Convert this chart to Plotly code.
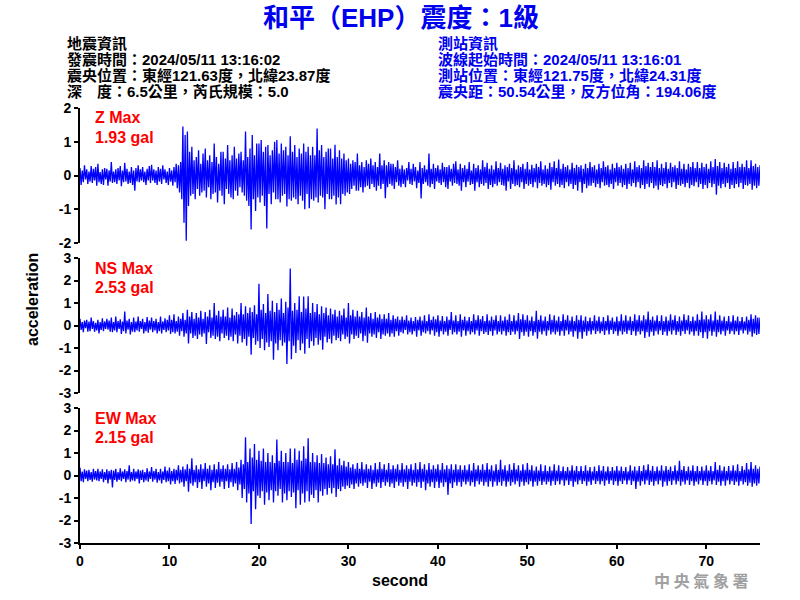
import plotly.graph_objects as go
from plotly.subplots import make_subplots

# ---------------- data: peak readings alternating up/down, one every 0.125 s ----------------
SAMPLE_STEP = 0.125  # seconds between successive peak readings

z_peaks = [
    0.22, -0.28, 0.15, -0.20, 0.30, -0.12, 0.18, -0.25,
    0.12, -0.18, 0.28, -0.22, 0.20, -0.15, 0.25, -0.30,
    0.35, -0.20, 0.10, -0.25, 0.18, -0.28, 0.22, -0.12,
    0.20, -0.30, 0.15, -0.18, 0.40, -0.22, 0.12, -0.20,
    0.18, -0.25, 0.22, -0.15, 0.28, -0.32, 0.15, -0.20,
    0.38, -0.18, 0.20, -0.25, 0.12, -0.22, 0.25, -0.28,
    0.15, -0.45, 0.22, -0.18, 0.30, -0.20, 0.18, -0.15,
    0.25, -0.20, 0.12, -0.28, 0.20, -0.15, 0.28, -0.22,
    0.32, -0.15, 0.18, -0.22, 0.15, -0.28, 0.25, -0.18,
    0.20, -0.25, 0.30, -0.12, 0.18, -0.22, 0.12, -0.28,
    0.22, -0.18, 0.15, -0.30, 0.25, -0.20, 0.35, -0.38,
    0.30, -0.50, 0.40, -0.70, 1.45, -1.40, 1.20, -1.93,
    1.30, -0.90, 0.70, -0.60, 0.85, -0.55, 0.45, -0.70,
    0.55, -0.40, 0.75, -0.60, 0.35, -0.50, 0.65, -0.45,
    0.80, -0.65, 0.45, -0.35, 0.60, -0.70, 0.40, -0.55,
    0.95, -0.50, 0.55, -0.80, 0.35, -0.45, 0.70, -0.60,
    0.70, -0.85, 0.50, -0.40, 0.90, -0.55, 0.45, -0.65,
    0.60, -0.70, 0.85, -0.45, 0.50, -0.60, 0.65, -0.35,
    0.70, -0.50, 0.45, -0.60, 1.30, -0.75, 0.55, -0.90,
    0.80, -1.60, 1.20, -0.70, 0.60, -1.05, 0.95, -0.65,
    0.95, -0.80, 1.05, -0.60, 0.70, -0.90, 0.85, -1.57,
    0.90, -0.55, 0.60, -0.85, 0.75, -0.50, 1.00, -0.70,
    1.05, -0.70, 0.65, -0.80, 0.95, -0.60, 0.75, -0.55,
    0.85, -0.92, 0.60, -0.70, 1.16, -0.75, 0.70, -0.65,
    0.90, -0.70, 0.55, -0.85, 0.80, -0.60, 0.65, -0.75,
    0.95, -1.00, 0.70, -0.55, 0.85, -0.97, 0.60, -0.70,
    0.85, -0.75, 0.60, -0.65, 1.39, -0.80, 0.75, -0.60,
    0.90, -0.65, 0.55, -1.00, 0.70, -0.55, 0.80, -0.70,
    0.80, -0.70, 0.50, -0.60, 0.91, -0.86, 0.55, -0.65,
    0.75, -0.85, 0.50, -0.55, 0.65, -0.60, 0.45, -0.50,
    0.50, -0.55, 0.35, -0.40, 0.45, -0.30, 0.40, -0.45,
    0.65, -0.45, 0.30, -0.35, 0.40, -0.50, 0.25, -0.35,
    0.45, -0.30, 0.35, -0.40, 0.50, -0.25, 0.30, -0.35,
    0.40, -0.45, 0.25, -0.30, 0.65, -0.40, 0.30, -0.25,
    0.45, -0.67, 0.30, -0.35, 0.40, -0.25, 0.35, -0.30,
    0.35, -0.40, 0.25, -0.20, 0.45, -0.30, 0.20, -0.35,
    0.30, -0.25, 0.18, -0.35, 0.22, -0.15, 0.40, -0.25,
    0.20, -0.28, 0.35, -0.18, 0.25, -0.38, 0.15, -0.22,
    0.40, -0.68, 0.22, -0.25, 0.30, -0.20, 0.18, -0.30,
    0.65, -0.35, 0.20, -0.25, 0.35, -0.40, 0.22, -0.18,
    0.30, -0.22, 0.18, -0.28, 0.38, -0.20, 0.25, -0.35,
    0.25, -0.40, 0.30, -0.18, 0.20, -0.30, 0.35, -0.22,
    0.42, -0.25, 0.18, -0.30, 0.35, -0.45, 0.22, -0.20,
    0.30, -0.35, 0.20, -0.18, 0.40, -0.28, 0.15, -0.25,
    0.35, -0.45, 0.22, -0.20, 0.30, -0.35, 0.18, -0.25,
    0.45, -0.30, 0.25, -0.22, 0.38, -0.40, 0.20, -0.28,
    0.30, -0.35, 0.18, -0.25, 0.42, -0.30, 0.22, -0.20,
    0.38, -0.28, 0.20, -0.30, 0.30, -0.45, 0.25, -0.18,
    0.35, -0.40, 0.22, -0.25, 0.45, -0.32, 0.18, -0.28,
    0.30, -0.35, 0.25, -0.20, 0.35, -0.40, 0.20, -0.25,
    0.40, -0.30, 0.18, -0.25, 0.32, -0.35, 0.22, -0.20,
    0.35, -0.38, 0.25, -0.22, 0.42, -0.30, 0.18, -0.25,
    0.30, -0.35, 0.20, -0.28, 0.38, -0.42, 0.25, -0.20,
    0.42, -0.30, 0.22, -0.25, 0.47, -0.35, 0.20, -0.28,
    0.35, -0.38, 0.25, -0.20, 0.30, -0.32, 0.18, -0.25,
    0.38, -0.40, 0.22, -0.28, 0.32, -0.45, 0.25, -0.20,
    0.30, -0.51, 0.20, -0.25, 0.35, -0.38, 0.22, -0.30,
    0.40, -0.30, 0.25, -0.22, 0.30, -0.35, 0.18, -0.25,
    0.35, -0.38, 0.22, -0.20, 0.42, -0.30, 0.25, -0.28,
    0.30, -0.35, 0.18, -0.25, 0.35, -0.40, 0.22, -0.20,
    0.38, -0.30, 0.25, -0.22, 0.30, -0.35, 0.20, -0.28,
    0.35, -0.40, 0.22, -0.25, 0.38, -0.32, 0.18, -0.22,
    0.42, -0.35, 0.25, -0.20, 0.30, -0.38, 0.22, -0.28,
    0.45, -0.40, 0.28, -0.25, 0.38, -0.35, 0.25, -0.22,
    0.40, -0.38, 0.25, -0.30, 0.45, -0.42, 0.22, -0.28,
    0.35, -0.32, 0.22, -0.25, 0.40, -0.38, 0.20, -0.22,
    0.38, -0.35, 0.25, -0.20, 0.30, -0.40, 0.22, -0.28,
    0.42, -0.30, 0.20, -0.25, 0.35, -0.35, 0.18, -0.22,
    0.35, -0.38, 0.25, -0.28, 0.40, -0.32, 0.22, -0.20,
    0.40, -0.35, 0.22, -0.25, 0.38, -0.40, 0.25, -0.28,
    0.35, -0.38, 0.20, -0.22, 0.42, -0.35, 0.25, -0.25,
    0.49, -0.57, 0.28, -0.30, 0.40, -0.38, 0.22, -0.25,
    0.38, -0.35, 0.25, -0.22, 0.35, -0.40, 0.20, -0.28,
    0.40, -0.38, 0.22, -0.25, 0.42, -0.35, 0.25, -0.22,
    0.35, -0.40, 0.25, -0.28, 0.45, -0.30, 0.22, -0.25,
    0.45, -0.42, 0.28, -0.30, 0.35, -0.38, 0.25, -0.30,
    0.30,
]

ns_peaks = [
    0.30, -0.20, 0.15, -0.30, 0.22, -0.12, 0.25, -0.28,
    0.18, -0.25, 0.35, -0.15, 0.20, -0.28, 0.12, -0.22,
    0.25, -0.35, 0.15, -0.20, 0.32, -0.25, 0.18, -0.15,
    0.30, -0.18, 0.22, -0.28, 0.35, -0.30, 0.15, -0.22,
    0.40, -0.30, 0.20, -0.15, 0.28, -0.38, 0.18, -0.25,
    0.62, -0.35, 0.22, -0.18, 0.30, -0.40, 0.15, -0.28,
    0.35, -0.30, 0.18, -0.22, 0.40, -0.28, 0.20, -0.15,
    0.30, -0.35, 0.15, -0.25, 0.38, -0.32, 0.22, -0.18,
    0.35, -0.30, 0.20, -0.22, 0.30, -0.35, 0.15, -0.25,
    0.40, -0.35, 0.18, -0.20, 0.32, -0.30, 0.25, -0.22,
    0.45, -0.38, 0.25, -0.30, 0.50, -0.35, 0.20, -0.28,
    0.40, -0.45, 0.30, -0.25, 0.55, -0.50, 0.25, -0.35,
    0.70, -0.80, 0.40, -0.35, 0.60, -0.55, 0.30, -0.45,
    0.55, -0.60, 0.35, -0.40, 0.65, -0.50, 0.30, -0.35,
    0.60, -0.82, 0.40, -0.30, 0.70, -0.55, 0.35, -0.45,
    1.00, -0.60, 0.45, -0.50, 0.65, -0.70, 0.40, -0.35,
    0.70, -0.55, 0.40, -0.45, 0.80, -0.65, 0.35, -0.50,
    0.75, -0.70, 0.45, -0.40, 0.60, -0.80, 0.50, -0.45,
    1.00, -0.75, 0.50, -0.60, 0.85, -0.90, 0.55, -0.50,
    0.80, -1.30, 0.60, -0.55, 0.90, -0.85, 0.50, -0.70,
    1.85, -1.00, 0.70, -0.60, 0.95, -1.10, 0.55, -0.75,
    1.40, -0.95, 0.65, -0.70, 1.10, -1.52, 0.60, -0.80,
    1.00, -1.10, 0.70, -0.65, 1.20, -0.90, 0.55, -0.75,
    1.05, -1.71, 0.80, -0.70, 2.53, -1.50, 0.65, -0.90,
    1.00, -1.22, 0.70, -0.65, 1.30, -1.10, 0.60, -0.80,
    1.29, -1.26, 0.75, -0.60, 1.30, -1.00, 0.55, -0.70,
    1.00, -0.90, 0.60, -0.55, 0.95, -0.85, 0.50, -0.65,
    0.85, -1.08, 0.55, -0.50, 0.80, -0.75, 0.45, -0.60,
    0.75, -0.80, 0.50, -0.45, 0.70, -0.65, 0.40, -0.55,
    0.65, -0.70, 0.45, -0.40, 0.75, -0.60, 0.35, -0.50,
    1.00, -0.80, 0.45, -0.40, 0.70, -0.60, 0.40, -0.45,
    0.65, -0.55, 0.40, -0.35, 0.60, -0.70, 0.35, -0.45,
    0.80, -0.77, 0.40, -0.35, 0.55, -0.50, 0.30, -0.40,
    0.60, -0.55, 0.35, -0.30, 0.50, -0.60, 0.30, -0.40,
    0.50, -0.45, 0.30, -0.35, 0.55, -0.50, 0.25, -0.35,
    0.45, -0.50, 0.30, -0.25, 0.40, -0.45, 0.25, -0.30,
    0.40, -0.35, 0.25, -0.20, 0.45, -0.40, 0.22, -0.30,
    0.35, -0.40, 0.20, -0.25, 0.38, -0.50, 0.25, -0.22,
    0.40, -0.45, 0.22, -0.30, 0.45, -0.35, 0.20, -0.25,
    0.50, -0.40, 0.25, -0.22, 0.40, -0.45, 0.28, -0.30,
    0.45, -0.50, 0.22, -0.25, 0.42, -0.40, 0.20, -0.28,
    0.40, -0.45, 0.25, -0.20, 0.60, -0.40, 0.22, -0.30,
    0.45, -0.40, 0.20, -0.28, 0.50, -0.50, 0.25, -0.22,
    0.40, -0.45, 0.22, -0.25, 0.38, -0.40, 0.20, -0.30,
    0.50, -0.40, 0.25, -0.22, 0.45, -0.45, 0.28, -0.25,
    0.42, -0.38, 0.20, -0.30, 0.50, -0.42, 0.22, -0.25,
    0.40, -0.45, 0.25, -0.22, 0.45, -0.40, 0.20, -0.28,
    0.45, -0.40, 0.22, -0.25, 0.40, -0.45, 0.25, -0.30,
    0.50, -0.42, 0.20, -0.28, 0.45, -0.40, 0.22, -0.25,
    0.55, -0.60, 0.28, -0.30, 0.50, -0.45, 0.25, -0.28,
    0.45, -0.50, 0.22, -0.25, 0.40, -0.45, 0.20, -0.30,
    0.65, -0.59, 0.25, -0.28, 0.45, -0.40, 0.22, -0.25,
    0.40, -0.45, 0.20, -0.22, 0.50, -0.40, 0.25, -0.30,
    0.45, -0.40, 0.22, -0.28, 0.40, -0.45, 0.20, -0.25,
    0.50, -0.45, 0.25, -0.22, 0.45, -0.40, 0.22, -0.28,
    0.40, -0.50, 0.20, -0.25, 0.45, -0.59, 0.25, -0.30,
    0.45, -0.59, 0.22, -0.28, 0.40, -0.45, 0.20, -0.25,
    0.35, -0.40, 0.20, -0.22, 0.45, -0.38, 0.22, -0.25,
    0.40, -0.35, 0.18, -0.25, 0.38, -0.42, 0.20, -0.22,
    0.45, -0.40, 0.22, -0.20, 0.35, -0.38, 0.18, -0.25,
    0.40, -0.45, 0.20, -0.25, 0.50, -0.40, 0.22, -0.28,
    0.45, -0.38, 0.22, -0.22, 0.40, -0.42, 0.20, -0.25,
    0.50, -0.45, 0.25, -0.28, 0.45, -0.40, 0.22, -0.25,
    0.45, -0.55, 0.28, -0.30, 0.62, -0.50, 0.25, -0.28,
    0.40, -0.45, 0.22, -0.25, 0.45, -0.40, 0.20, -0.22,
    0.45, -0.42, 0.20, -0.28, 0.40, -0.45, 0.22, -0.25,
    0.50, -0.40, 0.25, -0.22, 0.45, -0.42, 0.20, -0.28,
    0.40, -0.45, 0.22, -0.25, 0.50, -0.38, 0.25, -0.22,
    0.45, -0.40, 0.20, -0.28, 0.40, -0.45, 0.22, -0.25,
    0.50, -0.45, 0.25, -0.30, 0.62, -0.55, 0.28, -0.30,
    0.45, -0.59, 0.28, -0.25, 0.50, -0.45, 0.22, -0.28,
    0.62, -0.50, 0.25, -0.30, 0.45, -0.40, 0.22, -0.25,
    0.40, -0.45, 0.20, -0.22, 0.42, -0.38, 0.18, -0.25,
    0.45, -0.40, 0.22, -0.25, 0.40, -0.42, 0.20, -0.22,
    0.38, -0.35, 0.18, -0.22, 0.40, -0.40, 0.25, -0.28,
    0.50, -0.50, 0.30, -0.35, 0.45, -0.42, 0.35, -0.38,
    0.35,
]

ew_peaks = [
    0.35, -0.25, 0.18, -0.30, 0.28, -0.15, 0.22, -0.25,
    0.25, -0.20, 0.15, -0.28, 0.30, -0.18, 0.20, -0.22,
    0.30, -0.25, 0.18, -0.15, 0.28, -0.30, 0.15, -0.20,
    0.28, -0.35, 0.20, -0.18, 0.25, -0.53, 0.22, -0.20,
    0.30, -0.28, 0.15, -0.20, 0.32, -0.25, 0.18, -0.15,
    0.28, -0.30, 0.20, -0.18, 0.45, -0.28, 0.15, -0.22,
    0.30, -0.25, 0.18, -0.15, 0.28, -0.35, 0.22, -0.20,
    0.25, -0.30, 0.15, -0.22, 0.32, -0.28, 0.18, -0.15,
    0.38, -0.28, 0.20, -0.18, 0.30, -0.32, 0.15, -0.22,
    0.30, -0.35, 0.18, -0.20, 0.40, -0.30, 0.22, -0.25,
    0.35, -0.40, 0.20, -0.25, 0.30, -0.38, 0.25, -0.22,
    0.45, -0.35, 0.25, -0.30, 0.40, -0.50, 0.28, -0.25,
    0.50, -0.72, 0.30, -0.35, 0.77, -0.45, 0.25, -0.30,
    0.45, -0.55, 0.28, -0.30, 0.50, -0.60, 0.30, -0.25,
    0.55, -0.50, 0.30, -0.35, 0.45, -0.65, 0.25, -0.30,
    0.50, -0.55, 0.28, -0.32, 0.60, -0.50, 0.30, -0.28,
    0.45, -0.60, 0.30, -0.25, 0.50, -0.55, 0.28, -0.30,
    0.55, -0.50, 0.30, -0.35, 0.60, -0.65, 0.35, -0.40,
    0.70, -1.00, 0.50, -0.60, 1.70, -1.20, 0.60, -0.80,
    1.20, -2.15, 0.80, -0.70, 1.40, -1.50, 0.70, -0.90,
    1.10, -1.00, 0.65, -0.70, 1.20, -1.30, 0.60, -0.75,
    1.00, -1.10, 0.60, -0.65, 0.90, -1.20, 0.55, -0.70,
    1.60, -0.90, 0.65, -0.60, 1.10, -1.20, 0.60, -0.80,
    1.00, -1.10, 0.60, -0.70, 1.20, -0.95, 0.55, -0.75,
    1.20, -1.45, 0.70, -0.65, 1.10, -1.30, 0.65, -0.80,
    1.30, -1.20, 0.75, -0.70, 1.65, -1.15, 0.60, -0.85,
    1.00, -1.00, 0.60, -0.65, 0.90, -1.20, 0.55, -0.70,
    0.95, -0.90, 0.55, -0.60, 0.80, -0.85, 0.50, -0.55,
    0.85, -0.80, 0.50, -0.55, 1.17, -0.95, 0.45, -0.60,
    0.75, -0.70, 0.45, -0.50, 0.65, -0.60, 0.40, -0.45,
    0.60, -0.55, 0.35, -0.40, 0.50, -0.60, 0.30, -0.35,
    0.55, -0.50, 0.30, -0.35, 0.60, -0.45, 0.28, -0.32,
    0.50, -0.55, 0.30, -0.28, 0.45, -0.60, 0.25, -0.35,
    0.55, -0.50, 0.28, -0.32, 0.60, -0.55, 0.30, -0.30,
    0.50, -0.45, 0.25, -0.30, 0.55, -0.50, 0.28, -0.35,
    0.45, -0.55, 0.30, -0.28, 0.50, -0.45, 0.25, -0.32,
    0.55, -0.50, 0.28, -0.30, 0.45, -0.60, 0.30, -0.28,
    0.50, -0.45, 0.25, -0.32, 0.55, -0.50, 0.28, -0.30,
    0.60, -0.55, 0.30, -0.28, 0.50, -0.65, 0.25, -0.35,
    0.55, -0.50, 0.28, -0.30, 0.45, -0.55, 0.30, -0.28,
    0.50, -0.55, 0.25, -0.32, 0.55, -0.50, 0.28, -0.30,
    0.45, -0.86, 0.30, -0.35, 0.50, -0.55, 0.25, -0.30,
    0.50, -0.45, 0.28, -0.30, 0.45, -0.50, 0.25, -0.28,
    0.45, -0.40, 0.25, -0.28, 0.50, -0.45, 0.22, -0.30,
    0.55, -0.50, 0.28, -0.25, 0.45, -0.40, 0.25, -0.28,
    0.50, -0.45, 0.25, -0.30, 0.55, -0.50, 0.28, -0.25,
    0.45, -0.50, 0.22, -0.28, 0.50, -0.45, 0.25, -0.30,
    0.70, -0.45, 0.28, -0.25, 0.45, -0.50, 0.22, -0.28,
    0.50, -0.45, 0.25, -0.30, 0.55, -0.40, 0.28, -0.25,
    0.45, -0.50, 0.22, -0.28, 0.50, -0.45, 0.25, -0.30,
    0.55, -0.40, 0.25, -0.25, 0.45, -0.50, 0.22, -0.28,
    0.40, -0.45, 0.22, -0.25, 0.50, -0.42, 0.20, -0.28,
    0.45, -0.40, 0.20, -0.28, 0.40, -0.45, 0.22, -0.25,
    0.50, -0.42, 0.22, -0.25, 0.45, -0.40, 0.20, -0.22,
    0.40, -0.45, 0.20, -0.22, 0.38, -0.42, 0.22, -0.25,
    0.45, -0.50, 0.22, -0.28, 0.42, -0.40, 0.20, -0.22,
    0.42, -0.38, 0.20, -0.25, 0.45, -0.45, 0.22, -0.28,
    0.38, -0.42, 0.18, -0.22, 0.40, -0.38, 0.20, -0.25,
    0.45, -0.40, 0.22, -0.25, 0.42, -0.45, 0.18, -0.22,
    0.40, -0.38, 0.20, -0.22, 0.38, -0.42, 0.22, -0.25,
    0.42, -0.45, 0.22, -0.25, 0.40, -0.38, 0.20, -0.22,
    0.38, -0.40, 0.18, -0.22, 0.45, -0.42, 0.22, -0.25,
    0.40, -0.60, 0.22, -0.28, 0.42, -0.45, 0.20, -0.25,
    0.45, -0.40, 0.25, -0.22, 0.50, -0.42, 0.22, -0.28,
    0.42, -0.45, 0.20, -0.25, 0.40, -0.40, 0.22, -0.22,
    0.45, -0.50, 0.22, -0.28, 0.42, -0.45, 0.25, -0.25,
    0.40, -0.42, 0.20, -0.22, 0.45, -0.40, 0.22, -0.25,
    0.65, -0.45, 0.25, -0.28, 0.42, -0.40, 0.20, -0.22,
    0.40, -0.42, 0.22, -0.25, 0.45, -0.45, 0.20, -0.28,
    0.42, -0.40, 0.20, -0.22, 0.40, -0.42, 0.22, -0.25,
    0.45, -0.45, 0.22, -0.25, 0.42, -0.40, 0.20, -0.22,
    0.60, -0.42, 0.25, -0.28, 0.45, -0.45, 0.22, -0.25,
    0.40, -0.45, 0.20, -0.22, 0.42, -0.40, 0.22, -0.25,
    0.45, -0.42, 0.22, -0.28, 0.50, -0.45, 0.20, -0.25,
    0.42, -0.40, 0.25, -0.30, 0.55, -0.45, 0.28, -0.32,
    0.60, -0.50, 0.30, -0.35, 0.45, -0.45, 0.30, -0.35,
    0.40,
]

components = ["Z", "NS", "EW"]
max_pga = ["1.93", "2.53", "2.15"]
y_limits = [2, 3, 3]
x_ticks = [0, 10, 20, 30, 40, 50, 60, 70]
x_max = 76

title_text = "和平（EHP）震度：1級"
left_info = [
    "地震資訊",
    "發震時間：2024/05/11 13:16:02",
    "震央位置：東經121.63度，北緯23.87度",
    "深　度：6.5公里，芮氏規模：5.0",
]
right_info = [
    "測站資訊",
    "波線起始時間：2024/05/11 13:16:01",
    "測站位置：東經121.75度，北緯24.31度",
    "震央距：50.54公里，反方位角：194.06度",
]

# ---------------- figure ----------------
W, H = 800, 600
ML, MR, MT, MB = 80, 40, 108, 57
PW, PH = W - ML - MR, H - MT - MB

def px(x):
    return (x - ML) / PW

def py(y):
    return (H - MB - y) / PH

FONT = "Liberation Sans, Arial, Noto Sans CJK TC, sans-serif"
CJK = "Liberation Sans, Noto Sans CJK TC, sans-serif"

fig = make_subplots(rows=3, cols=1, shared_xaxes=False, vertical_spacing=15 / PH)

series = [z_peaks, ns_peaks, ew_peaks]
for i, vals in enumerate(series):
    t = [k * SAMPLE_STEP for k in range(len(vals))]
    fig.add_trace(
        go.Scatter(x=t, y=vals, mode="lines",
                   line=dict(color="#0000FF", width=1.3),
                   hoverinfo="skip", showlegend=False),
        row=i + 1, col=1,
    )
    lim = y_limits[i]
    tv = list(range(-lim, lim + 1))
    fig.update_yaxes(
        range=[-lim, lim], tickvals=tv, ticktext=[str(v) for v in tv],
        showgrid=False, zeroline=False, showline=True,
        linecolor="black", linewidth=2, ticks="outside", ticklen=4,
        tickwidth=2, tickcolor="black",
        tickfont=dict(family=FONT, size=14, color="black", weight="bold"),
        row=i + 1, col=1,
    )
    if i < 2:
        fig.update_xaxes(range=[0, x_max], visible=False, row=i + 1, col=1)
    else:
        fig.update_xaxes(
            range=[0, x_max], tickvals=x_ticks, showgrid=False, zeroline=False,
            showline=True, linecolor="black", linewidth=2, ticks="outside",
            ticklen=4, tickwidth=2, tickcolor="black",
            tickfont=dict(family=FONT, size=14, color="black", weight="bold"),
            row=i + 1, col=1,
        )

annotations = []
annotations.append(dict(
    x=px(401), y=py(18), xref="paper", yref="paper", xanchor="center", yanchor="middle",
    text=title_text, showarrow=False,
    font=dict(family=CJK, size=26, color="#0000EE", weight="bold")))

line_y = [43, 59, 75, 91]
for txt, yy in zip(left_info, line_y):
    annotations.append(dict(
        x=px(65), y=py(yy), xref="paper", yref="paper", xanchor="left", yanchor="middle",
        text=txt, showarrow=False,
        font=dict(family=CJK, size=15, color="black", weight="bold")))
for txt, yy in zip(right_info, line_y):
    annotations.append(dict(
        x=px(436), y=py(yy), xref="paper", yref="paper", xanchor="left", yanchor="middle",
        text=txt, showarrow=False,
        font=dict(family=CJK, size=15, color="#0000EE", weight="bold")))

label_y = [(117, 137), (268, 287), (418, 437)]
for comp, mx, (y1, y2) in zip(components, max_pga, label_y):
    annotations.append(dict(
        x=px(93), y=py(y1), xref="paper", yref="paper", xanchor="left", yanchor="middle",
        text=f"{comp} Max", showarrow=False,
        font=dict(family=FONT, size=16, color="#FF0000", weight="bold")))
    annotations.append(dict(
        x=px(93), y=py(y2), xref="paper", yref="paper", xanchor="left", yanchor="middle",
        text=f"{mx} gal", showarrow=False,
        font=dict(family=FONT, size=16, color="#FF0000", weight="bold")))

annotations.append(dict(
    x=px(400), y=py(580), xref="paper", yref="paper", xanchor="center", yanchor="middle",
    text="second", showarrow=False,
    font=dict(family=FONT, size=16, color="black", weight="bold")))
annotations.append(dict(
    x=px(32), y=py(300), xref="paper", yref="paper", xanchor="center", yanchor="middle",
    text="acceleration", showarrow=False, textangle=-90,
    font=dict(family=FONT, size=16, color="black", weight="bold")))
annotations.append(dict(
    x=px(701), y=py(580), xref="paper", yref="paper", xanchor="center", yanchor="middle",
    text="中 央 氣 象 署", showarrow=False,
    font=dict(family="Noto Sans CJK TC, sans-serif", size=16, color="#A0A0A0", weight="bold")))

fig.update_layout(
    width=W, height=H,
    margin=dict(l=ML, r=MR, t=MT, b=MB, pad=0),
    paper_bgcolor="white", plot_bgcolor="white",
    annotations=annotations,
    showlegend=False,
)

fig.write_html("out.html", config={"displayModeBar": False},
               post_script="document.body.style.margin='0px';")
